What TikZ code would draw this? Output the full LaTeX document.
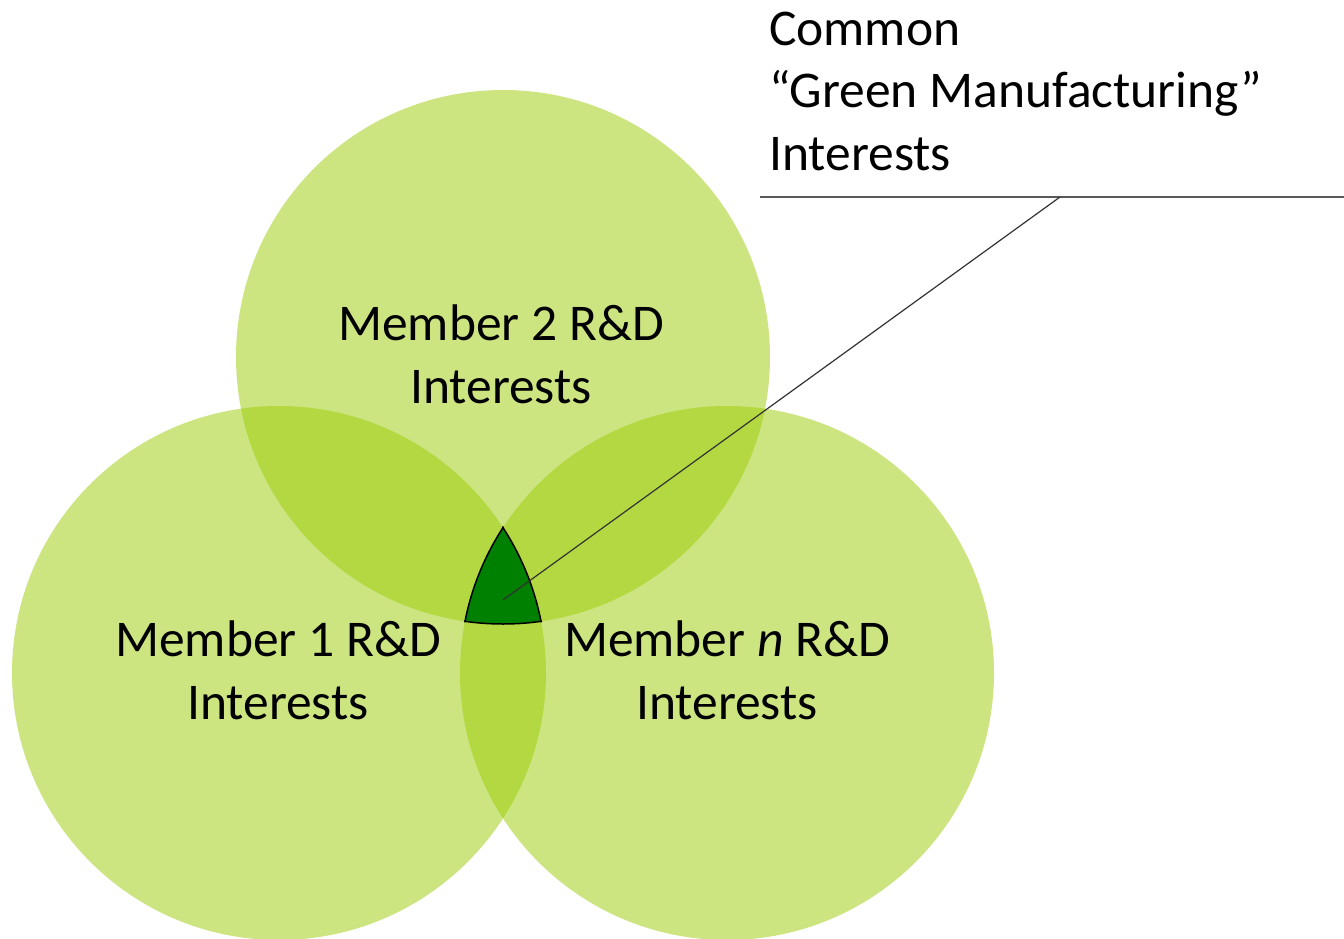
\documentclass[tikz,border=0pt]{standalone}
\usepackage{fontspec}
\setmainfont{Carlito}
\definecolor{circgreen}{RGB}{155,205,5}
\definecolor{tripgreen}{RGB}{0,128,0}
\begin{document}
\begin{tikzpicture}[x=1pt,y=-1pt,
  circ/.style={fill=circgreen,fill opacity=0.5},
  lbl/.style={inner sep=0pt,font=\fontsize{51.5}{63}\selectfont,text=black},
  leader/.style={draw=black!80,line width=1.2pt},
  shelf/.style={draw=black!65,line width=2.2pt}]
\useasboundingbox (0,0) rectangle (1344,939);
\fill[white] (0,0) rectangle (1344,939);
\coordinate (c2) at (503,357);
\coordinate (c1) at (279,673);
\coordinate (cn) at (727,673);
\fill[circ] (c2) circle[radius=267pt];
\fill[circ] (c1) circle[radius=267pt];
\fill[circ] (cn) circle[radius=267pt];
% triple intersection
\begin{scope}
  \clip (c1) circle[radius=267pt];
  \clip (c2) circle[radius=267pt];
  \fill[tripgreen] (cn) circle[radius=267pt];
\end{scope}
\begin{scope}
  \clip (c1) circle[radius=268pt];
  \clip (c2) circle[radius=268pt];
  \draw[line width=1.5pt] (cn) circle[radius=267pt];
\end{scope}
\begin{scope}
  \clip (c1) circle[radius=268pt];
  \clip (cn) circle[radius=268pt];
  \draw[line width=1.5pt] (c2) circle[radius=267pt];
\end{scope}
\begin{scope}
  \clip (c2) circle[radius=268pt];
  \clip (cn) circle[radius=268pt];
  \draw[line width=1.5pt] (c1) circle[radius=267pt];
\end{scope}
% labels (base anchor = baseline of last line)
\node[lbl,align=center,anchor=base] (m2) at (501,403) {Member 2 R\&D\\Interests};
\node[lbl,align=center,anchor=base] (m1) at (278,719) {Member 1 R\&D\\Interests};
\node[lbl,align=center,anchor=base] (mn) at (727,719) {Member \textit{n} R\&D\\Interests};
\node[lbl,align=left,anchor=base west] (common) at (769,171) {Common\\“Green Manufacturing”\\Interests};
% shelf and leader
\coordinate (sl) at (760,197);
\coordinate (sr) at (1344,197);
\coordinate (lead) at (1060,197);
\coordinate (tip) at (503,600);
\draw[shelf] (sl) -- (sr);
\draw[leader] (lead) -- (tip);
\end{tikzpicture}
\end{document}
